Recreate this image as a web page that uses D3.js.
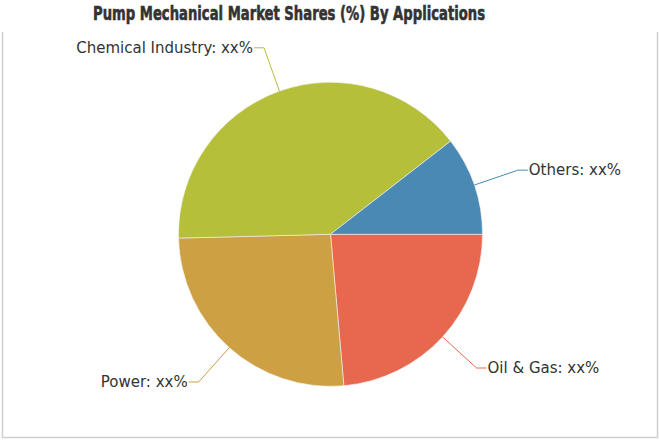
<!DOCTYPE html>
<html lang="en">
<head>
<meta charset="UTF-8">
<title>Pump Mechanical Market Shares (%) By Applications</title>
<script src="https://d3js.org/d3.v7.min.js"></script>
<style>
    body { margin: 0; background: #fff; }
    svg { display: block; }
    .slice-label { font-family: "DejaVu Sans", sans-serif; font-size: 15px; fill: #333; }
    .title { font-family: "DejaVu Sans Condensed", "DejaVu Sans", sans-serif; font-weight: bold; font-size: 20px; fill: #333; stroke: #333; stroke-width: 0.6px; }
</style>
</head>
<body>
<svg id="chart" width="660" height="440"></svg>
<script>
    // clockwise from 3 o'clock
    const categories = ["Oil & Gas", "Power", "Chemical Industry", "Others"];
    const shares = [23.6, 26.0, 39.9, 10.5];
    const shareLabels = ["xx%", "xx%", "xx%", "xx%"];
    const colors = ["#e8684f", "#cda044", "#b5bf3a", "#4a89b3"];

    const width = 660, height = 440;
    const cx = 330.5, cy = 234.3, radius = 152;

    const svg = d3.select("#chart");

    // frame (no top edge)
    svg.append("path")
        .attr("d", "M2.5,32V437.5H657.5V32")
        .attr("fill", "none")
        .attr("stroke", "#cfcfcf")
        .attr("stroke-width", 1.5);

    svg.append("text")
        .attr("class", "title")
        .attr("x", 289)
        .attr("y", 20)
        .attr("text-anchor", "middle")
        .attr("textLength", 392)
        .attr("lengthAdjust", "spacingAndGlyphs")
        .text("Pump Mechanical Market Shares (%) By Applications");

    const data = categories.map((c, i) => ({ name: c, value: shares[i], label: shareLabels[i], color: colors[i] }));

    const pie = d3.pie()
        .sort(null)
        .value(d => d.value)
        .startAngle(Math.PI / 2)
        .endAngle(Math.PI / 2 + 2 * Math.PI);

    const arc = d3.arc().innerRadius(0).outerRadius(radius);

    const g = svg.append("g").attr("transform", `translate(${cx},${cy})`);
    const arcs = pie(data);

    g.selectAll("path.slice")
        .data(arcs)
        .enter()
        .append("path")
        .attr("class", "slice")
        .attr("d", arc)
        .attr("fill", d => d.data.color)
        .attr("stroke", "#f4f4f4")
        .attr("stroke-width", 0.6);

    // leader lines + labels
    const elbowR = radius + 46;
    arcs.forEach(d => {
        const a = (d.startAngle + d.endAngle) / 2;
        const sx = Math.sin(a), sy = -Math.cos(a);
        const p0 = [sx * radius, sy * radius];
        const p1 = [sx * elbowR, sy * elbowR];
        const right = sx >= 0;
        const p2 = [p1[0] + (right ? 10 : -10), p1[1]];

        g.append("polyline")
            .attr("points", [p0, p1, p2].map(p => p.join(",")).join(" "))
            .attr("fill", "none")
            .attr("stroke", d.data.color)
            .attr("stroke-width", 1);

        g.append("text")
            .attr("class", "slice-label")
            .attr("x", p2[0] + (right ? 1 : -1))
            .attr("y", p2[1])
            .attr("dy", "0.35em")
            .attr("text-anchor", right ? "start" : "end")
            .text(`${d.data.name}: ${d.data.label}`);
    });
</script>
</body>
</html>
